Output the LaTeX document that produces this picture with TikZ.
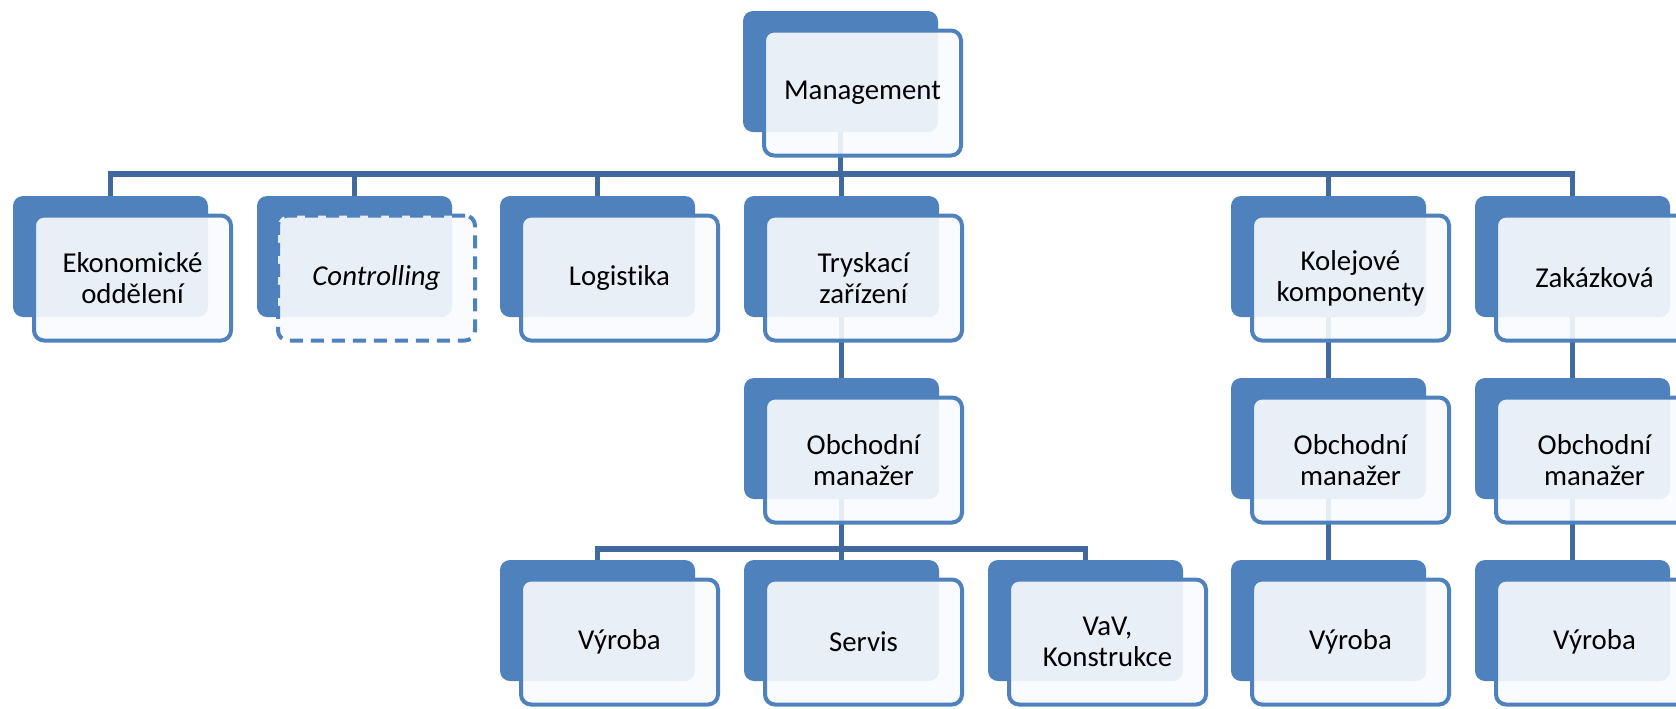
\documentclass[tikz,border=0pt]{standalone}
\usepackage{fontspec}
\setmainfont[Ligatures=NoCommon]{Carlito}
\definecolor{boxblue}{HTML}{4F81BD}
\definecolor{linkblue}{HTML}{41699D}
\definecolor{cardfill}{HTML}{F9FBFE}
\tikzset{
  backcard/.style={fill=boxblue, rounded corners=5pt},
  card/.style={draw=boxblue, line width=2pt, fill=cardfill, fill opacity=0.9,
    text opacity=1, draw opacity=1, rounded corners=5pt, minimum width=98.5pt,
    minimum height=62.5pt, align=center, inner sep=0pt,
    font=\fontsize{14.4}{15.5}\selectfont},
  dashcard/.style={card, dash pattern=on 6.5pt off 4pt},
  link/.style={draw=linkblue, line width=2.6pt},
}
% #1 extra style, #2 name, #3/#4 top-left corner of the back card (px), #5 label
\newcommand\orgunit[5][]{%
  \path[backcard] (#3,#4) rectangle ++(195,121);
  \node[card,#1] (#2) at (#3+119.5,#4+82) {#5};
}
\begin{document}
\begin{tikzpicture}[x=0.5pt,y=-0.5pt]
\useasboundingbox (0,0) rectangle (1676,708);
\clip (0,0) rectangle (1676,708);
\coordinate (bar1) at (0,174);
\coordinate (bar2) at (0,549);

% anchor points used by the connectors
\foreach \n/\x/\y in {M/743/11, E/13/196, C/257/196, L/500/196, T/744/196,
    K/1231/196, Z/1475/196, TO/744/378, KO/1231/378, ZO/1475/378,
    TV/500/560, TS/744/560, TK/988/560, KV/1231/560, ZV/1475/560}{
  \coordinate (\n-c) at (\x+97.5,\y+60);
  \coordinate (\n-t) at (\x+97.5,\y);
}

% connectors (drawn first, the cards sit on top)
\foreach \ch in {E,C,L,T,K,Z}{
  \draw[link] (M-c) -- (M-c |- bar1) -| (\ch-t);
}
\draw[link] (T-c) -- (TO-t);
\draw[link] (K-c) -- (KO-t);
\draw[link] (Z-c) -- (ZO-t);
\foreach \ch in {TV,TS,TK}{
  \draw[link] (TO-c) -- (TO-c |- bar2) -| (\ch-t);
}
\draw[link] (KO-c) -- (KV-t);
\draw[link] (ZO-c) -- (ZV-t);

% cards
\orgunit{M}{743}{11}{Management}
\orgunit{E}{13}{196}{Ekonomické\\oddělení}
\orgunit[dashcard]{C}{257}{196}{\itshape Controlling}
\orgunit{L}{500}{196}{Logistika}
\orgunit{T}{744}{196}{Tryskací\\zařízení}
\orgunit{K}{1231}{196}{Kolejové\\komponenty}
\orgunit{Z}{1475}{196}{Zakázková}
\orgunit{TO}{744}{378}{Obchodní\\manažer}
\orgunit{KO}{1231}{378}{Obchodní\\manažer}
\orgunit{ZO}{1475}{378}{Obchodní\\manažer}
\orgunit{TV}{500}{560}{Výroba}
\orgunit{TS}{744}{560}{Servis}
\orgunit{TK}{988}{560}{VaV,\\Konstrukce}
\orgunit{KV}{1231}{560}{Výroba}
\orgunit{ZV}{1475}{560}{Výroba}
\end{tikzpicture}
\end{document}
